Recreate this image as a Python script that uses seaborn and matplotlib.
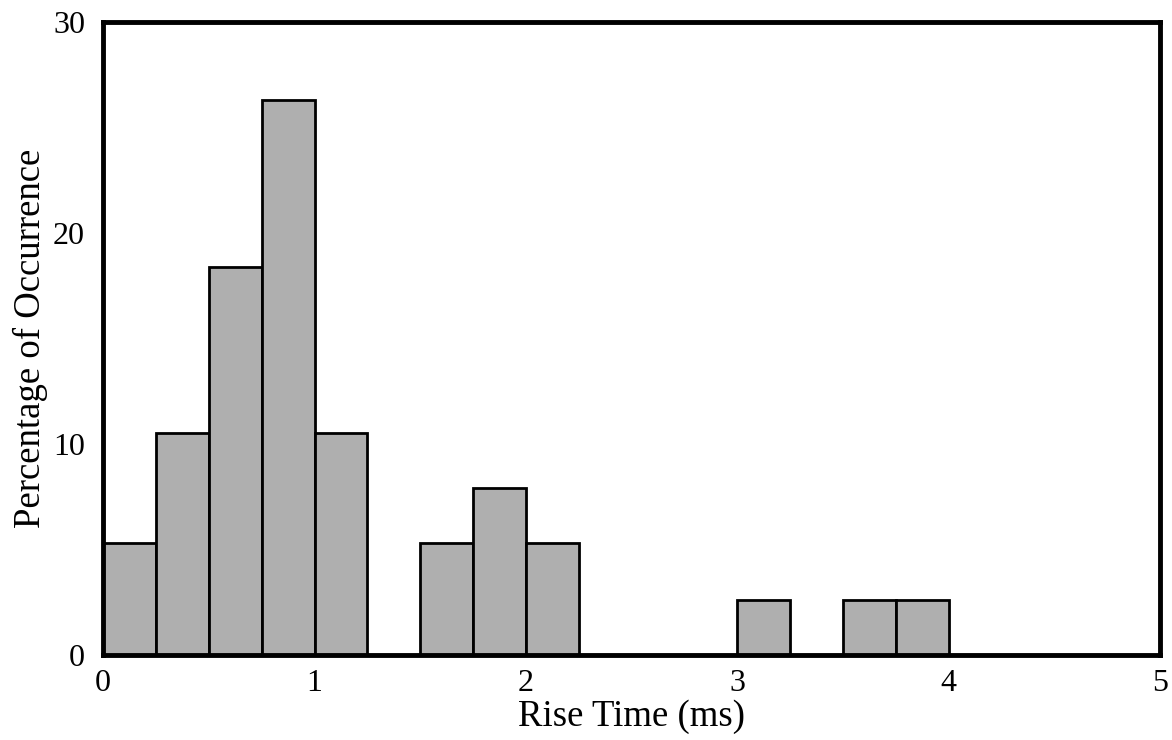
import matplotlib
matplotlib.use("Agg")
import matplotlib.pyplot as plt
import seaborn as sns
import pandas as pd

# --- data (bin width 0.25 ms) ---
bin_centers = [0.125, 0.375, 0.625, 0.875, 1.125, 1.625, 1.875, 2.125, 3.125, 3.625, 3.875]
percent = [5.3, 10.5, 18.4, 26.3, 10.5, 5.3, 7.9, 5.3, 2.6, 2.6, 2.6]
x_ticks = [0, 1, 2, 3, 4, 5]
y_ticks = [0, 10, 20, 30]

df = pd.DataFrame({'rise': bin_centers, 'pct': percent})

sns.set_style("white")
plt.rcParams['font.family'] = ['Liberation Serif', 'DejaVu Serif']

fig = plt.figure(figsize=(11.72, 7.40), dpi=100)
ax = fig.add_axes([0.088, 0.115, 0.902, 0.855])

sns.histplot(data=df, x='rise', weights='pct', binwidth=0.25, binrange=(0, 5), ax=ax,
             color='#afafaf', alpha=1.0, edgecolor='black', linewidth=2)

ax.set_xlim(0, 5)
ax.set_ylim(0, 30)
ax.set_xticks(x_ticks)
ax.set_yticks(y_ticks)
ax.tick_params(axis='both', length=0, labelsize=23, colors='black')
ax.tick_params(axis='x', pad=10)
ax.tick_params(axis='y', pad=13)
for s in ax.spines.values():
    s.set_visible(True)
    s.set_linewidth(3.5)
    s.set_color('black')

ax.set_xlabel('Rise Time (ms)', fontsize=26.5, labelpad=1, color='black')
ax.set_ylabel('Percentage of Occurrence', fontsize=26.5, labelpad=4, color='black')

fig.savefig('out.png', dpi=100)
